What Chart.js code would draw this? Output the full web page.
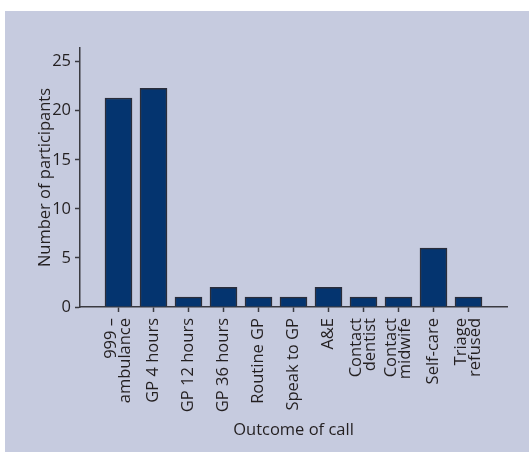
<!DOCTYPE html>
<html><head><meta charset="utf-8">
<script src="https://cdn.jsdelivr.net/npm/chart.js@4.4.0/dist/chart.umd.min.js"></script>
<style>
html,body{margin:0;padding:0;background:#fff;}
#panel{position:absolute;left:5px;top:11px;width:524px;height:441px;background:#c6cbdf;}
canvas{display:block;}
</style></head><body>
<div id="panel"><canvas id="c" width="524" height="441"></canvas></div>
<script>
const categories = [["999 –","ambulance"],"GP 4 hours","GP 12 hours","GP 36 hours","Routine GP","Speak to GP","A&E",["Contact","dentist"],["Contact","midwife"],"Self-care",["Triage","refused"]];
const participants = [21.3,22.3,1,2,1,1,2,1,1,6,1];
const yTickValues = [0,5,10,15,20,25];
const xTitle = "Outcome of call";
const yTitle = "Number of participants";

const FONT = "'Open Sans', sans-serif";
const TXT = '#231f20';
const AX = '#3a3a40';
const TICK_LH = 0.85;
const TICK_SIZE = 16.5;

// centre multi-line rotated tick labels on their tick
const centreLabels = {
  id: 'centreLabels',
  beforeDraw(chart) {
    const s = chart.scales.x;
    const items = s.getLabelItems();
    items.forEach(it => {
      if (Array.isArray(it.label) && !it._centred) {
        it.textOffset -= (it.label.length - 1) * TICK_SIZE * TICK_LH / 2;
        it._centred = true;
      }
    });
  }
};

new Chart(document.getElementById('c'), {
  type: 'bar',
  data: {
    datasets: [{
      data: participants.map((v, i) => ({x: i, y: v})),
      backgroundColor: '#04346f',
      borderColor: '#2a2d3a',
      borderWidth: 1.5,
      barThickness: 27
    }]
  },
  plugins: [centreLabels],
  options: {
    responsive: false,
    animation: false,
    devicePixelRatio: 1,
    layout: {padding: {left: 0, top: 37, right: 22, bottom: 0}},
    plugins: {legend: {display: false}, tooltip: {enabled: false}},
    scales: {
      x: {
        type: 'linear',
        offset: false,
        min: -1.1,
        max: categories.length - 1 + 1.1,
        afterBuildTicks: (s) => { s.ticks = categories.map((c, i) => ({value: i})); },
        afterFit: (s) => { s.height = 145; },
        ticks: {
          autoSkip: false, minRotation: 90, maxRotation: 90, padding: 6,
          color: TXT, font: {family: FONT, size: TICK_SIZE, lineHeight: TICK_LH},
          callback: (v) => categories[v]
        },
        grid: {display: true, offset: false, drawOnChartArea: false, drawTicks: true, tickLength: 5, tickColor: AX, tickWidth: 1.5},
        border: {display: true, color: AX, width: 1.5},
        title: {display: true, text: xTitle, color: TXT, font: {family: FONT, size: 16.5}, padding: {top: 0, bottom: 12}}
      },
      y: {
        min: 0,
        max: 26.4,
        afterBuildTicks: (s) => { s.ticks = yTickValues.map(v => ({value: v})); },
        afterFit: (s) => { s.width = 75; },
        ticks: {padding: 4, color: TXT, font: {family: FONT, size: 16.5}},
        grid: {display: true, drawOnChartArea: false, drawTicks: true, tickLength: 5, tickColor: AX, tickWidth: 1.5},
        border: {display: true, color: AX, width: 1.5},
        title: {display: true, text: yTitle, color: TXT, font: {family: FONT, size: 16.5}, padding: {top: 30, bottom: 0}}
      }
    }
  }
});
</script>
</body></html>
